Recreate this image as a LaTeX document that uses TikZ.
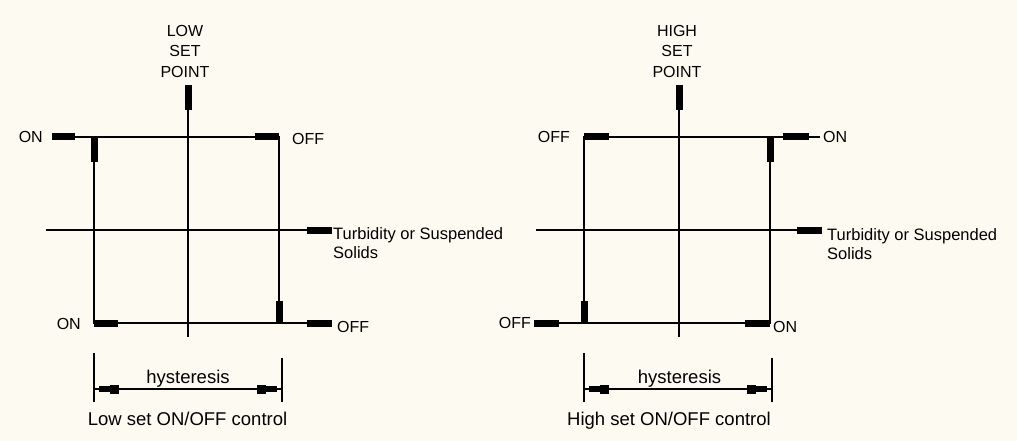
\documentclass[tikz,border=0pt]{standalone}
\usepackage{fontspec}
\setmainfont{Liberation Sans}
\usetikzlibrary{calc}
\definecolor{cream}{RGB}{253,251,241}
\begin{document}
\begin{tikzpicture}[x=1pt,y=-1pt,
  thin/.style={line width=1.6pt,line cap=butt},
  bar/.style={line width=7pt,line cap=butt},
  lbl/.style={font=\fontsize{16}{20.5}\selectfont,inner sep=0pt},
  big/.style={font=\fontsize{18.5}{20}\selectfont,inner sep=0pt},
]
\fill[cream] (0,0) rectangle (1017,441);
\useasboundingbox (0,0) rectangle (1017,441);

% ================= LEFT: low set =================
\coordinate (Lsp1) at (188,85);  \coordinate (Lsp2) at (188,110); \coordinate (Lsp3) at (188,337);
\coordinate (Lt0) at (52,137);   \coordinate (Lt1) at (75,137);
\coordinate (Lt2) at (255,137);  \coordinate (Lt3) at (279,137);
\coordinate (Ltl) at (94,137);   \coordinate (Ltl2) at (94,162);
\coordinate (Lbl) at (94,323);   \coordinate (Lbl2) at (118,323);
\coordinate (Lbr) at (279,323);  \coordinate (Lbr2) at (279,301);
\coordinate (La0) at (46,230);   \coordinate (La1) at (307,230); \coordinate (La2) at (332,230);
\coordinate (Lb1) at (307,323);  \coordinate (Lb2) at (332,323);
\coordinate (Ld1a) at (94,353);  \coordinate (Ld1b) at (94,402);
\coordinate (Ld2a) at (282,358); \coordinate (Ld2b) at (282,402);
\coordinate (Ld1) at (94,389);   \coordinate (Ld2) at (282,389);

\draw[bar] (Lsp1) -- (Lsp2);
\draw[thin] (Lsp2) -- (Lsp3);
\draw[thin] (Lt0) -- (Lt3) -- (Lbr);
\draw[bar] (Lt0) -- (Lt1);
\draw[bar] (Lt2) -- (Lt3);
\draw[thin] (Ltl) -- (Lbl) -- (Lb2);
\draw[bar] (Ltl) -- (Ltl2);
\draw[bar] (Lbl) -- (Lbl2);
\draw[bar] (Lbr) -- (Lbr2);
\draw[bar] (Lb1) -- (Lb2);
\draw[thin] (La0) -- (La2);
\draw[bar] (La1) -- (La2);
% dimension
\draw[thin] (Ld1a) -- (Ld1b);
\draw[thin] (Ld2a) -- (Ld2b);
\draw[thin] (Ld1) -- (Ld2);
\fill ($(Ld1)+(5,-3)$) rectangle ++(11,6);
\fill ($(Ld1)+(16,-4.5)$) rectangle ++(9,9);
\fill ($(Ld2)+(-5,-3)$) rectangle ++(-11,6);
\fill ($(Ld2)+(-16,-4.5)$) rectangle ++(-9,9);

\node[lbl,align=center,anchor=north] (Llow) at (185,25) {LOW\\SET\\POINT};
\node[lbl,anchor=east] (Lon1) at (43,137) {ON};
\node[lbl,anchor=west] (Loff1) at (292,138.5) {OFF};
\node[lbl,anchor=east] (Lon2) at (81,324) {ON};
\node[lbl,anchor=west] (Loff2) at (337,327) {OFF};
\node[lbl,align=left,anchor=north west,font=\fontsize{16.5}{19}\selectfont] (Ltur) at (333,227) {Turbidity or Suspended\\Solids};
\node[big,anchor=base] (Lhys) at (188,383) {hysteresis};
\node[big,anchor=base] (Lcap) at (187.5,425) {Low set ON/OFF control};

% ================= RIGHT: high set =================
\coordinate (Rsp1) at (679,85);  \coordinate (Rsp2) at (679,110); \coordinate (Rsp3) at (679,337);
\coordinate (Rt0) at (584,137);  \coordinate (Rt1) at (609,137);
\coordinate (Rt2) at (783,137);  \coordinate (Rt3) at (809,137); \coordinate (Rt4) at (820,137);
\coordinate (Rtr) at (770,137);  \coordinate (Rtr2) at (770,162);
\coordinate (Rbl) at (584,323);  \coordinate (Rbl2) at (584,301);
\coordinate (Rb0) at (534,323);  \coordinate (Rb1) at (559,323);
\coordinate (Rbr) at (770,323);  \coordinate (Rbr2) at (745,323);
\coordinate (Ra0) at (536,230);  \coordinate (Ra1) at (797,230); \coordinate (Ra2) at (822,230);
\coordinate (Rd1a) at (584,353); \coordinate (Rd1b) at (584,402);
\coordinate (Rd2a) at (772,358); \coordinate (Rd2b) at (772,402);
\coordinate (Rd1) at (584,389);  \coordinate (Rd2) at (772,389);

\draw[bar] (Rsp1) -- (Rsp2);
\draw[thin] (Rsp2) -- (Rsp3);
\draw[thin] (Rbl) -- (Rt0) -- (Rt4);
\draw[bar] (Rt0) -- (Rt1);
\draw[bar] (Rt2) -- (Rt3);
\draw[thin] (Rtr) -- (Rbr) -- (Rb0);
\draw[bar] (Rtr) -- (Rtr2);
\draw[bar] (Rbl) -- (Rbl2);
\draw[bar] (Rb0) -- (Rb1);
\draw[bar] (Rbr) -- (Rbr2);
\draw[thin] (Ra0) -- (Ra2);
\draw[bar] (Ra1) -- (Ra2);
% dimension
\draw[thin] (Rd1a) -- (Rd1b);
\draw[thin] (Rd2a) -- (Rd2b);
\draw[thin] (Rd1) -- (Rd2);
\fill ($(Rd1)+(5,-3)$) rectangle ++(11,6);
\fill ($(Rd1)+(16,-4.5)$) rectangle ++(9,9);
\fill ($(Rd2)+(-5,-3)$) rectangle ++(-11,6);
\fill ($(Rd2)+(-16,-4.5)$) rectangle ++(-9,9);

\node[lbl,align=center,anchor=north] (Rhigh) at (677,25) {HIGH\\SET\\POINT};
\node[lbl,anchor=east] (Roff1) at (570,137) {OFF};
\node[lbl,anchor=west] (Ron1) at (823,137) {ON};
\node[lbl,anchor=east] (Roff2) at (531,323) {OFF};
\node[lbl,anchor=west] (Ron2) at (773,327) {ON};
\node[lbl,align=left,anchor=north west,font=\fontsize{16.5}{19}\selectfont] (Rtur) at (827,228) {Turbidity or Suspended\\Solids};
\node[big,anchor=base] (Rhys) at (679.5,383) {hysteresis};
\node[big,anchor=base] (Rcap) at (669,425) {High set ON/OFF control};
\end{tikzpicture}
\end{document}
